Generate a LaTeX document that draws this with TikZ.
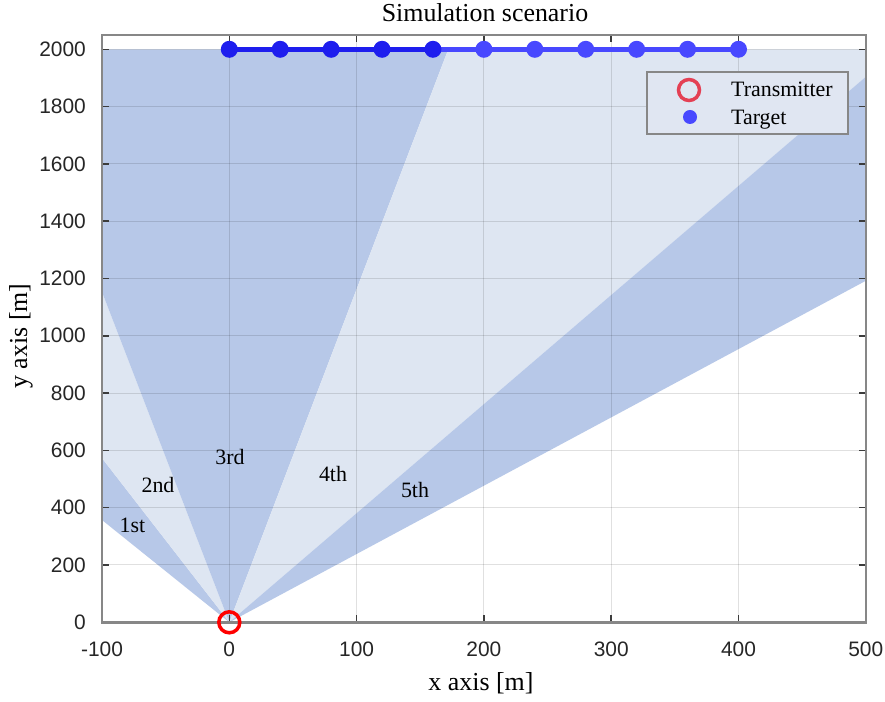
\documentclass[tikz,border=0pt]{standalone}
\usepackage{fontspec}
\setmainfont{Liberation Serif}
\newfontfamily\tickfont{Liberation Sans}
\definecolor{beamdark}{RGB}{183,200,232}
\definecolor{beamlight}{RGB}{222,230,242}
\definecolor{axisgray}{RGB}{135,135,135}
\definecolor{tickgray}{RGB}{60,60,60}
\definecolor{tgtdark}{RGB}{30,30,238}
\definecolor{tgtlight}{RGB}{72,72,255}
\definecolor{txred}{RGB}{255,0,0}
\definecolor{legred}{RGB}{228,64,84}
\definecolor{legfill}{RGB}{224,230,242}
\begin{document}
\begin{tikzpicture}[x=1bp,y=1bp,
  ticklbl/.style={font=\tickfont\fontsize{21}{21}\selectfont, text=black!85, inner sep=0},
  beamlbl/.style={font=\fontsize{22}{22}\selectfont, inner sep=0, anchor=base},
  lbl/.style={font=\fontsize{26}{26}\selectfont, inner sep=0, anchor=base},
  leglbl/.style={font=\fontsize{22}{22}\selectfont, inner sep=0, anchor=base west},
  gridln/.style={black, opacity=0.12, line width=1bp},
  tickln/.style={tickgray, line width=1.5bp},
  frameln/.style={axisgray, line width=2.5bp},
  tgtdot/.style={circle, inner sep=0, minimum size=17bp},
]
\useasboundingbox[fill=white] (0,0) rectangle (885,702);

\begin{scope}[shift={(229.3,79.7)}, x=1.273bp, y=0.2865bp]
  % beams
  \fill[beamdark]  (0,0) -- (-100,357) -- (-100,573) -- cycle;
  \fill[beamlight] (0,0) -- (-100,573) -- (-100,1153) -- cycle;
  \fill[beamdark]  (0,0) -- (-100,1153) -- (-100,2000) -- (172,2000) -- cycle;
  \fill[beamlight] (0,0) -- (172,2000) -- (500,2000) -- (500,1904) -- cycle;
  \fill[beamdark]  (0,0) -- (500,1904) -- (500,1192) -- cycle;
  % grid
  \foreach \gx in {0,100,...,400} \draw[gridln] (\gx,0) -- (\gx,2050);
  \foreach \gy in {200,400,...,2000} \draw[gridln] (-100,\gy) -- (500,\gy);
  % ticks
  \foreach \gx in {-100,0,...,500} {
    \draw[tickln] (\gx,0) -- ++(0pt,7bp);
    \draw[tickln] (\gx,2050) -- ++(0pt,-7bp);
  }
  \foreach \gy in {0,200,...,2000} {
    \draw[tickln] (-100,\gy) -- ++(7bp,0pt);
    \draw[tickln] (500,\gy) -- ++(-7bp,0pt);
  }
  % frame
  \draw[frameln] (-100,0) rectangle (500,2050);
  % tick labels
  \foreach \gx in {-100,0,...,500}
    \node[ticklbl] (xl\gx) at (\gx,0) [yshift=-26.7bp] {\gx};
  \foreach \gy in {0,200,...,2000}
    \node[ticklbl, anchor=east] (yl\gy) at (-100,\gy) [xshift=-16bp] {\gy};
  % targets
  \foreach \i in {0,...,10} \coordinate (t\i) at ({40*\i},2000);
  \draw[tgtdark, line width=4.5bp] (t0) -- (t4);
  \draw[tgtlight, line width=4.5bp] (t4) -- (t10);
  \foreach \i in {0,...,4} \node[tgtdot, fill=tgtdark] (m\i) at (t\i) {};
  \foreach \i in {5,...,10} \node[tgtdot, fill=tgtlight] (m\i) at (t\i) {};
  % transmitter
  \node[circle, draw=txred, line width=3.5bp, inner sep=0, minimum size=21bp] (tx) at (0,0) {};
\end{scope}

% beam labels
\node[beamlbl] (b1) at (132.5,169) {1st};
\node[beamlbl] (b2) at (158,209) {2nd};
\node[beamlbl] (b3) at (230,237) {3rd};
\node[beamlbl] (b4) at (333,220) {4th};
\node[beamlbl] (b5) at (415,204) {5th};

% legend
\node[draw=axisgray, fill=legfill, line width=1.5bp, minimum width=201bp, minimum height=62bp, inner sep=0] (leg) at (747.5,599) {};
\node[circle, draw=legred, line width=3.5bp, inner sep=0, minimum size=21bp] (legtx) at (689,612) {};
\node[circle, fill=tgtlight, inner sep=0, minimum size=14bp] (legtg) at (690,585) {};
\node[leglbl] (legtxt1) at (731,605) {Transmitter};
\node[leglbl] (legtxt2) at (731,577) {Target};

% titles
\node[lbl] (title) at (485,680) {Simulation scenario};
\node[lbl] (xlab) at (481,11) {x axis [m]};
\node[lbl, rotate=90] (ylab) at (27,366) {y axis [m]};
\end{tikzpicture}
\end{document}
